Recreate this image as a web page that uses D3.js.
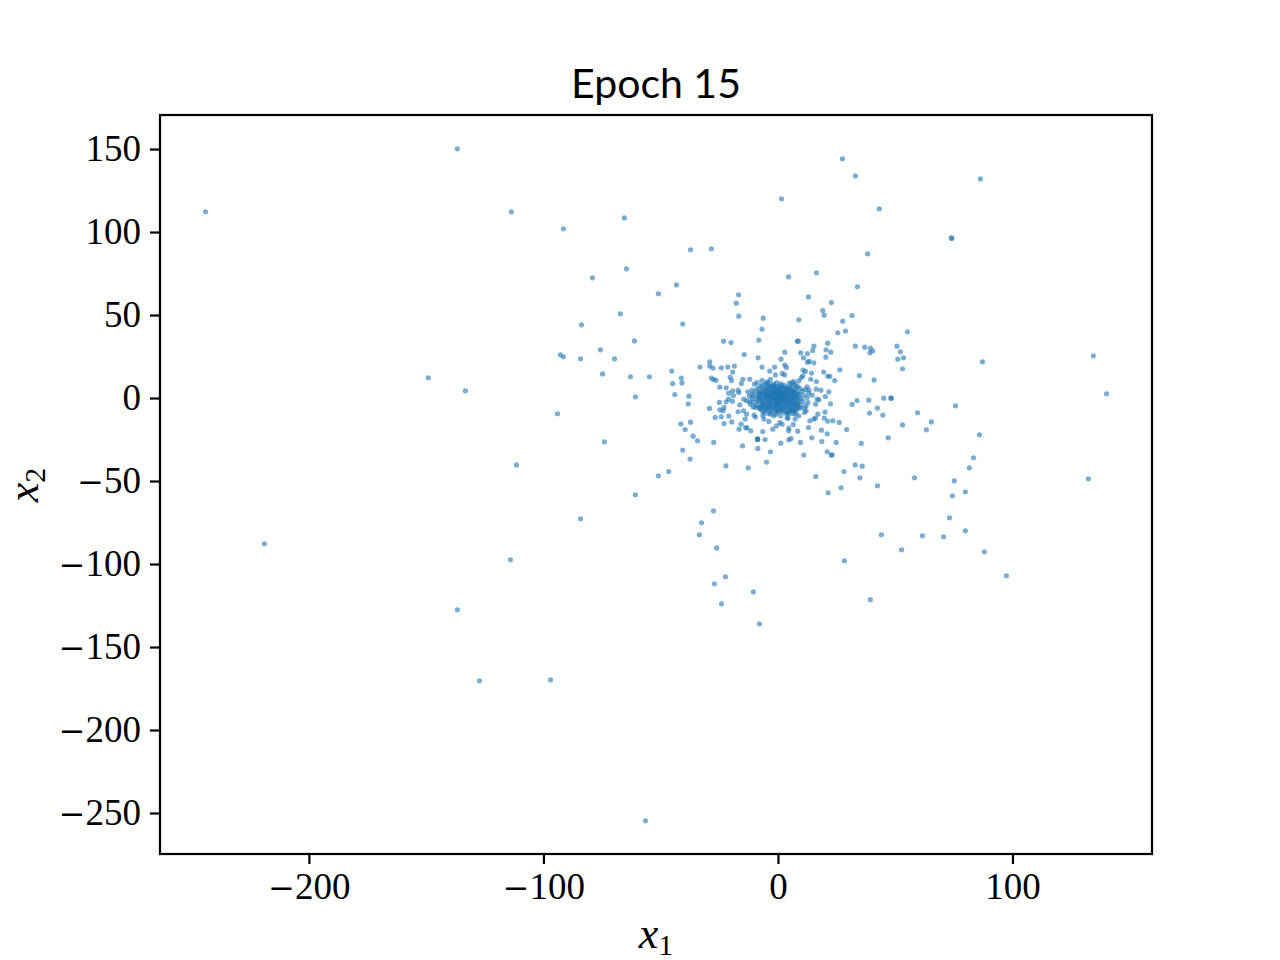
<!DOCTYPE html>
<html>
<head>
<meta charset="utf-8">
<script src="https://cdn.jsdelivr.net/npm/d3@7"></script>
<style>
    html, body { margin: 0; padding: 0; background: #fff; }
    svg { display: block; }
</style>
</head>
<body>
<svg id="chart" width="1280" height="960"></svg>
<script>
const titleText = 'Epoch 15';
const xTicks = [-200, -100, 0, 100];
const yTicks = [-250, -200, -150, -100, -50, 0, 50, 100, 150];
const xLimits = [-263.5, 159.5];
const yLimits = [-274.7, 170.5];

// far points
const farPoints = [
    [-244.3, 112.7], [-136.9, 150.6], [-113.9, 112.7], [-91.7, 102.4], [-65.7, 109],
    [27.3, 144.6], [32.8, 134.3], [1.3, 120.5], [86.1, 132.5], [43, 114.5],
    [-37.5, 89.8], [-28.6, 90.4], [38, 87.3], [73.8, 97], [73.9, 96.6], [-64.8, 78.3],
    [-79.3, 72.9], [-51.2, 63.3], [-43.5, 68.7], [4.3, 73.5], [16.2, 75.9],
    [33.7, 67.5], [12.8, 61.4], [-17, 62.7], [-67.4, 51.2], [-84, 44.6],
    [-61.4, 34.9], [55, 40.4], [-84.4, 24.1], [-93, 26.5], [-91.7, 25.3],
    [-75.9, 29.5], [-69.9, 24.1], [-75, 15], [-63.1, 13.3], [-55, 13.3],
    [-149.3, 12.7], [-133.5, 4.8], [-61, 1.2], [-94.2, -9], [-74.2, -25.9],
    [-111.7, -39.8], [-51.2, -46.4], [-61, -57.8], [-84.4, -72.3], [-27.7, -67.5],
    [-32.8, -74.7], [-33.7, -81.9], [-26.4, -89.8], [-219.2, -87.3], [-114.3, -97],
    [-22.6, -107.2], [-27.3, -111.4], [-10.7, -116.3], [-24.3, -123.5], [-8.1, -135.5],
    [-136.9, -127.1], [-127.5, -169.9], [-97.2, -169.3], [-56.7, -254.2], [28.1, -97.6],
    [39.2, -121], [43.9, -81.9], [52.5, -91], [61.4, -82.5], [70.4, -83.1],
    [72.9, -71.7], [79.7, -79.5], [87.8, -92.2], [97.2, -106.6], [74.2, -58.4],
    [79.7, -56], [75, -49.4], [81.4, -41.6], [83.2, -35.5], [85.7, -21.7],
    [132.2, -48.2], [139.9, 3], [134.3, 25.9], [87, 22.3], [75.5, -4.2],
    [65.2, -13.9], [63.1, -18.7], [59.3, -8.4], [52.9, -15.7], [58, -47.6],
    [53.3, 24.7], [52, 28.3], [52.9, 18.1]
];

// scattered points around the centre
const midPoints = [
    [-18, 57.6], [22.6, 58], [18.9, 53.2], [19.5, 50.4], [-16.9, 49.8], [-6.5, 48.6],
    [8.7, 47.6], [31.4, 50.2], [27.4, 46.8], [-40.8, 45], [-7, 42], [28.6, 40.8],
    [25.3, 39.8], [-23.4, 34.7], [-20.2, 33.9], [-8.4, 35.3], [8, 34.7], [8.5, 34.7],
    [15.1, 31.7], [21, 33.5], [32.8, 31.7], [36.8, 31.1], [39.2, 30.5], [40.2, 28.9],
    [39, 27.7], [50.5, 31.7], [50.9, 23.9], [20.3, 29.5], [14.6, 29.1], [22.3, 28.1],
    [12.4, 27.3], [9.5, 27.7], [2.7, 28.1], [-14.6, 26.7], [-8.7, 24.7], [1.1, 23.9],
    [10.7, 24.7], [20.2, 25.1], [12.4, 22.1], [13.1, 22.5], [15.1, 21.7], [-29.3, 22.3],
    [-29.3, 19.7], [-33.5, 19.1], [-27.9, 18.5], [-24.4, 18.7], [-21.6, 19.1], [-18.8, 19.7],
    [-7, 19.1], [-1.6, 19.1], [2.7, 20.3], [3.4, 18.9], [26.2, 17.5], [-19.5, 16.1],
    [-45.5, 16.7], [-3.7, 16.7], [19.3, 16.1], [10.5, 17.3], [11.5, 16.5], [14.1, 15.5],
    [34.5, 14], [21, 13.6], [21.9, 13.6], [24, 11], [40.8, 11.4], [-41.4, 12.5],
    [-45.1, 9.2], [-41.1, 9.6], [-28.6, 12.5], [-27.6, 11.6], [-26.6, 11.2], [-20.6, 13],
    [-20, 11], [-15.2, 11.8], [-12.2, 11.8], [-15.8, 9.2], [9.8, 12.8], [10.4, 13.9],
    [13.8, 11.8], [16.2, 10.4], [-25, 7], [-22.3, 6.6], [-44.2, 2.6], [-38.2, 1.6],
    [-38.5, -3], [-29.4, -5.8], [-25.2, -2.2], [-21.3, -0.2], [-17.2, 5.2], [-16.9, 3.8],
    [-19.5, 4.8], [-21.2, 3.4], [-19.2, 2], [-22.3, -1.8], [-19.6, -1.4], [-16.5, -3.6],
    [-25, -6.6], [-23.6, -7.2], [-23.2, -5.2], [-27, -11.2], [-24.4, -10.8], [-21.2, -10.4],
    [-17.2, -7.8], [-14.9, -7.2], [-13.6, -9.2], [-14.2, -12.2], [-23.2, -14.9], [-19.9, -13.9],
    [-41.6, -15.1], [-37.5, -14.1], [-39.8, -18.5], [-36.4, -22.5], [-34.5, -25.3], [-27.6, -26.3],
    [-40.8, -30.9], [-37.7, -36.3], [-22.4, -40.4], [-12.9, -41.6], [-5.1, -38.1], [-3.4, -31.9],
    [-8.8, -29.9], [-8.9, -24.3], [-8.9, -24.3], [-8.9, -24.3], [-5.7, -24.5], [-15.3, -28.3],
    [1, -26.7], [5.4, -23.9], [4.4, -24.7], [9.4, -26.3], [10.8, -33.9], [14.2, -23.5],
    [18.5, -25.7], [20.8, -21.1], [24.6, -26.3], [35.3, -26.9], [20.8, -31.9], [22.5, -33.9],
    [22.9, -33.7], [15.9, -46.8], [21.2, -56.6], [26.7, -53.6], [34.7, -47.6], [27.9, -43.8],
    [32.7, -39.8], [35.7, -40.6], [42.2, -52.4], [46.8, -23.5], [29.1, -18.5], [25.9, -14.2],
    [23.2, -13.2], [21, -13.4], [19.5, -11.6], [18.3, -18.9], [12.8, -17.3], [19.9, -8],
    [22.2, -3], [20, 1.4], [21.5, 4.2], [18.1, 5.2], [31.4, -3.4], [33.5, -1],
    [38.5, -0.8], [38.8, -8.6], [42.2, -5.6], [44.5, -9.8], [44.9, 0.4], [47.9, 0.4],
    [48.2, 0.4], [-46.8, -43.8], [-6.7, -19.7], [-11.8, -19.3], [-13.4, -17.5], [-14, -17.3],
    [-15.9, -15.3], [-16.8, -18.3], [-10.4, -9.8], [-9.8, -11], [-6.7, -10.2], [-6.2, -12.2],
    [-4.1, -13.6], [-2.4, -18.3], [-0.8, -16.3], [0.6, -14.3], [1.6, -15.3], [4.1, -11.6],
    [3.7, -11.6], [4.4, -19.3], [6.3, -15.5], [4.4, -17.7], [8.2, -19.5], [7.1, -12.2],
    [8.7, -10.2], [11.8, -7.2], [11.1, -8.2], [13.4, -13.2], [15.1, -12.2], [15.8, -11.6],
    [16.8, -9.2]
];

// ring of points hugging the dense blob
const ringPoints = [
    [-13.1, 4.2], [-11.2, 2.8], [-9.1, 9.8], [-10.2, 8.8], [-7, 11.2], [-4.8, 10.2],
    [-3.4, 11.8], [-1.3, 14.4], [1.6, 15.3], [2.6, 14.4], [6.5, 10.4], [8.7, 10.8],
    [12.2, 7.2], [13, 5.2], [16.1, 5.8], [14.4, 2.2], [16.5, -0.2], [17.3, -0.6],
    [15.8, -3.2], [12.2, 0.8], [11.8, -4.2], [9.4, -5.6], [5.8, -7.2], [7.3, -9.2],
    [4.4, -8.8], [0.9, -10.2], [-2, -10.2], [-3.4, -9.2], [-5.5, -6.2], [-7.7, -5.2],
    [-9.8, -5.2], [-11.9, -3.2], [-13.6, -1.2], [-14.8, -0.2], [-11.2, -0.2], [-8.4, 0.8]
];

// the solid middle of the cloud, too dense to separate, estimated
const corePoints = [
    [-8.2, 1.4], [-7.6, 4.2], [-7.1, -2.3], [-6.8, 6.1], [-6.4, 0.7], [-6.2, -4.4], [-5.9, 2.9], [-5.6, 8.2],
    [-5.3, -1.2], [-5.1, 4.9], [-4.9, -6.8], [-4.7, 0.2], [-4.4, 6.9], [-4.2, -3.4], [-4, 2.3], [-3.8, 9.1],
    [-3.6, -5.4], [-3.4, 4], [-3.2, -0.9], [-3, 7.4], [-2.8, -7.8], [-2.6, 1.6], [-2.4, 5.6], [-2.2, -2.7],
    [-2, 8.8], [-1.9, -5.9], [-1.7, 3.1], [-1.5, -0.4], [-1.3, 6.6], [-1.1, -4.1], [-0.9, 1], [-0.7, 9.8],
    [-0.6, -8.1], [-0.4, 4.5], [-0.2, -1.8], [0, 7.5], [0.1, -6.2], [0.3, 2.4], [0.5, -3.3], [0.7, 5.5],
    [0.9, -0.2], [1.1, 9], [1.2, -7.4], [1.4, 3.6], [1.6, -2.1], [1.8, 6.8], [2, -5], [2.2, 1.2],
    [2.4, 8.1], [2.6, -0.9], [2.8, -8.5], [3, 4.4], [3.2, -3.7], [3.4, 2], [3.6, 7], [3.8, -6.1],
    [4, 0.4], [4.2, 5.2], [4.4, -2], [4.6, 9.4], [4.8, -4.6], [5, 2.8], [5.2, -7.2], [5.4, 6.2],
    [5.6, -0.7], [5.8, 3.9], [6, -3], [6.2, 8], [6.4, 1], [6.6, -5.5], [6.8, 5], [7, -1.6],
    [7.2, 2.5], [7.4, -3.9], [7.6, 6.4], [7.9, 0.1], [8.1, 3.6], [8.3, -2.4], [8.6, 1.7], [8.8, -0.8],
    [-7.9, -1], [-7.2, 2.4], [-6.6, -3], [-6, 4.6], [-5.5, -5.6], [-5, 2.2], [-4.5, -1.8], [-4, 5.6],
    [-3.5, -3.1], [-3, 1.2], [-2.5, -5.2], [-2, 3.8], [-1.5, -2.2], [-1, 5.2], [-0.5, -6.4], [0, 0.6],
    [0.5, 3.2], [1, -4.2], [1.5, 1.8], [2, -1.6], [2.5, 4.2], [3, -5.2], [3.5, 0.4], [4, 3],
    [4.5, -2.8], [5, 5.4], [5.5, -4.4], [6, 0.8], [6.5, 3.4], [7, -2.6], [-3.2, 3.2], [-1.4, 0.2],
    [0.2, -2.4], [1.4, 0.2], [2.8, 2.4], [-0.6, 2.8], [-2.2, 0.6], [0.8, 1.6], [-1.1, -1.1], [1.9, -3],
    [-4.6, 3.6], [3.1, -1.4], [-0.1, 4.1], [-2.9, -1.5], [2.3, 5.4], [-1.7, 7.8], [0.6, -5.2], [-3.9, -4.6],
    [4.9, 0.9], [-5.8, 1.1], [0.4, 6.6], [2.9, 0.8], [-0.3, -3.8], [1.1, 3.1], [-2.4, 2.6], [3.7, 1.8],
    [-10.6, 1.8], [-10.1, -2.2], [-9.7, 4.6], [-9.4, 0.2], [-9.2, -3.8], [-8.9, 6.2], [-8.7, 2.8], [-8.5, -1.4],
    [-8.3, -5.6], [-7.8, 7.2], [-7.5, -6.4], [-7, 8.4], [-6.7, -7.6], [-12.2, -1.8], [-12.4, 1.6], [-11.3, 5.2],
    [-10.8, -4.8], [-6.1, -8.6], [-5.2, 9.4], [-4.3, -8.9], [10.8, 2.2], [10.4, -1.6], [10.1, 4.6], [9.7, 0.2],
    [9.5, -3.6], [9.2, 6.2], [8.9, 2.9], [8.7, -5.2], [8.2, 7.4], [7.8, -6.8], [7.2, 8.6], [6.9, -7.6],
    [12.6, -2.2], [12.9, 3.4], [11.4, 5.6], [11.1, -5.4], [6.2, -8.8], [5.6, 9.6], [3.9, -9.2], [-1.2, -9.3],
    [-7.4, 0.4], [-6.9, 3.4], [-6.3, -1.8], [-5.7, 5.8], [-5.4, -3.6], [-4.8, 1.3], [-4.4, -5.2], [-3.9, 7.2],
    [-3.7, 0.1], [-3.3, -7], [-2.9, 5.1], [-2.7, -0.1], [-2.3, 7.6], [-1.9, -4], [-1.8, 1.8], [-1.2, 4.2],
    [-1, -7], [-0.8, -2.9], [-0.5, 0.2], [-0.2, 6], [0.1, 1.4], [0.4, -7.6], [0.7, -1.2], [0.9, 4.4],
    [1.2, 7.8], [1.5, -5.9], [1.7, 2.6], [2.1, -0.2], [2.3, -7], [2.6, 3.3], [2.9, 6.2], [3.3, -2.8],
    [3.6, -7.8], [3.9, 4.6], [4.3, -0.8], [4.7, 6.8], [4.9, -6.2], [5.3, 1.9], [5.7, -2.2], [6.1, 4.6],
    [6.3, -6.6], [6.7, 0.2], [7.1, 3.8], [7.5, -5.2], [7.7, 1.4], [8, -3.6], [-8, 3.6], [-7.3, -4.4]
];

const allPoints = farPoints.concat(midPoints, ringPoints, corePoints);

const svg = d3.select('#chart');

const xScale = d3.scaleLinear().domain(xLimits).range([160, 1152]);
const yScale = d3.scaleLinear().domain(yLimits).range([854, 115]);

svg.append('g')
    .attr('transform', 'translate(0.5, 0.8)')
    .selectAll('circle')
    .data(allPoints)
    .enter()
    .append('circle')
    .attr('cx', (d) => xScale(d[0]))
    .attr('cy', (d) => yScale(d[1]))
    .attr('r', 2.6)
    .attr('fill', '#1f77b4')
    .attr('fill-opacity', 0.6);

// frame drawn on top of the points
svg.append('rect')
    .attr('x', 160)
    .attr('y', 115)
    .attr('width', 992)
    .attr('height', 739)
    .attr('fill', 'none')
    .attr('stroke', '#000')
    .attr('stroke-width', 2.2);

const styleAxis = (g) => {
    g.select('.domain').remove();
    g.selectAll('.tick line').attr('stroke', '#000').attr('stroke-width', 2.2);
    g.selectAll('.tick text')
        .attr('fill', '#000')
        .attr('font-family', '"Liberation Serif", serif')
        .attr('font-size', '37px')
        .each(function (d) {
            if (d >= 0) return;
            // wider minus, closer to the reference's math font
            const text = d3.select(this).text('');
            text.append('tspan')
                .attr('font-family', '"DejaVu Serif", serif')
                .attr('font-size', '32px')
                .text('\u2212');
            text.append('tspan').text(-d);
        });
};

svg.append('g')
    .attr('transform', 'translate(0, 854)')
    .call(d3.axisBottom(xScale).tickValues(xTicks).tickSize(10).tickPadding(9))
    .call(styleAxis);

svg.append('g')
    .attr('transform', 'translate(160, 0)')
    .call(d3.axisLeft(yScale).tickValues(yTicks).tickSize(10).tickPadding(9))
    .call(styleAxis);

svg.append('text')
    .attr('x', 656)
    .attr('y', 98)
    .attr('text-anchor', 'middle')
    .attr('font-family', 'Lato, "Open Sans", sans-serif')
    .attr('font-size', '41px')
    .text(titleText);

// axis label with a subscript
const addLabel = (name, sub) => {
    const label = svg.append('text')
        .attr('text-anchor', 'middle')
        .attr('font-family', '"Liberation Serif", serif')
        .attr('font-size', '44px');
    label.append('tspan').attr('font-style', 'italic').text(name);
    label.append('tspan').attr('font-size', '30px').attr('dy', 7).text(sub);
    return label;
};

addLabel('x', '1').attr('x', 656).attr('y', 948);
addLabel('x', '2').attr('transform', 'translate(38, 485) rotate(-90)');
</script>
</body>
</html>
